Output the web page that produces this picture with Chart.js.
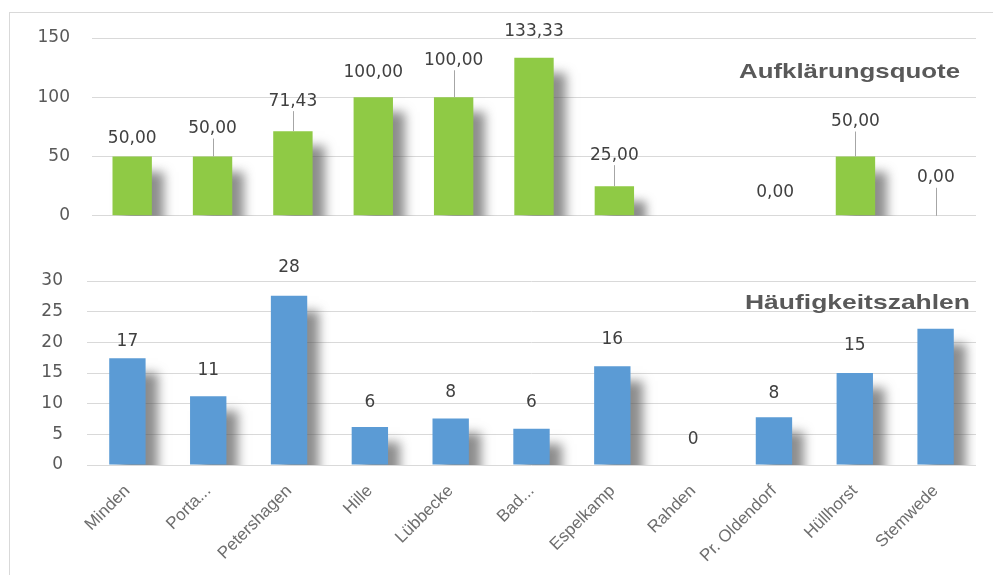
<!DOCTYPE html>
<html><head><meta charset="utf-8">
<script src="https://cdn.jsdelivr.net/npm/chart.js@4/dist/chart.umd.min.js"></script>
<style>
html,body{margin:0;padding:0;background:#fff;width:993px;height:575px;overflow:hidden;}
#frame{position:absolute;left:9px;top:12px;width:990px;height:570px;border-left:1px solid #d9d9d9;border-top:1px solid #d9d9d9;}
#c1{position:absolute;left:0;top:0;}
#c2{position:absolute;left:0;top:235px;}
</style></head><body>
<div id="frame"></div>
<canvas id="c1" width="993" height="248"></canvas>
<canvas id="c2" width="993" height="340"></canvas>
<script>
const categories = ["Minden","Porta...","Petershagen","Hille","Lübbecke","Bad...","Espelkamp","Rahden","Pr. Oldendorf","Hüllhorst","Stemwede"];
const quoteValues = [50, 50, 71.43, 100, 100, 133.33, 25, null, 0, 50, 0];
const quoteLabels = ["50,00","50,00","71,43","100,00","100,00","133,33","25,00","","0,00","50,00","0,00"];
const rateValues = [17.4, 11.2, 27.6, 6.2, 7.6, 5.9, 16.1, 0, 7.8, 15.0, 22.2];
const rateLabels = ["17","11","28","6","8","6","16","0","8","15",""];
const quoteTicks = [0, 50, 100, 150];
const rateTicks = [0, 5, 10, 15, 20, 25, 30];
const quoteTitle = "Aufklärungsquote";
const rateTitle = "Häufigkeitszahlen";

const shadowPlugin = {
  id: 'barShadow',
  beforeDatasetsDraw(chart) {
    const c = chart.ctx; c.save();
    c.shadowColor = 'rgba(80,80,80,0.65)';
    c.shadowOffsetX = 12; c.shadowOffsetY = 15; c.shadowBlur = 10;
  },
  afterDatasetsDraw(chart) { chart.ctx.restore(); }
};

const labelPlugin = {
  id: 'barLabels',
  afterDraw(chart, args, o) {
    const ctx = chart.ctx, meta = chart.getDatasetMeta(0), ca = chart.chartArea;
    ctx.save();
    ctx.font = o.font; ctx.fillStyle = o.color; ctx.textAlign = 'center'; ctx.textBaseline = 'middle';
    meta.data.forEach((bar, i) => {
      const t = o.texts[i]; if (!t) return;
      const by = isNaN(bar.y) ? ca.bottom : bar.y;
      const y = by - o.lift[i];
      ctx.fillText(t, bar.x, y);
      if (o.leader && o.leader[i]) {
        ctx.strokeStyle = '#a6a6a6'; ctx.lineWidth = 1;
        ctx.beginPath(); ctx.moveTo(Math.round(bar.x) + 0.5, y + 10); ctx.lineTo(Math.round(bar.x) + 0.5, by); ctx.stroke();
      }
    });
    ctx.font = o.titleFont; ctx.fillStyle = '#595959'; ctx.textAlign = 'left'; ctx.textBaseline = 'middle';
    const w = ctx.measureText(o.title).width;
    ctx.translate(o.titleX, o.titleY); ctx.scale(o.titleW / w, 1);
    ctx.fillText(o.title, 0, 0);
    ctx.restore();
  }
};

const tickFont = {size: 17, family: 'DejaVu Sans'};
const labelFont = '17px "DejaVu Sans"';

new Chart(document.getElementById('c1'), {
  type: 'bar',
  data: {labels: categories, datasets: [{data: quoteValues, backgroundColor: '#8fca45', barPercentage: 0.49, categoryPercentage: 1}]},
  options: {
    responsive: false, animation: false, events: [],
    layout: {padding: {top: 38, bottom: 7, right: 17, left: 0}},
    plugins: {
      legend: {display: false}, tooltip: {enabled: false},
      barLabels: {
        texts: quoteLabels, font: labelFont, color: '#404040',
        lift: [18, 28, 30, 25, 37, 26, 31, 0, 23, 35, 38],
        leader: [0, 1, 1, 0, 1, 0, 1, 0, 0, 1, 1],
        title: quoteTitle, titleFont: 'bold 21px "Liberation Sans"', titleX: 739, titleY: 72, titleW: 221
      }
    },
    scales: {
      x: {display: false},
      y: {
        min: 0, max: 150,
        afterBuildTicks: s => { s.ticks = quoteTicks.map(v => ({value: v})); },
        afterFit: s => { s.width = 92; },
        grid: {color: '#d9d9d9', drawTicks: false}, border: {display: false},
        ticks: {padding: 22, color: '#595959', font: tickFont}
      }
    }
  },
  plugins: [shadowPlugin, labelPlugin]
});

new Chart(document.getElementById('c2'), {
  type: 'bar',
  data: {labels: categories, datasets: [{data: rateValues, backgroundColor: '#5b9bd5', barPercentage: 0.45, categoryPercentage: 1}]},
  options: {
    responsive: false, animation: false, events: [],
    layout: {padding: {top: 46, bottom: 0, right: 17, left: 0}},
    plugins: {
      legend: {display: false}, tooltip: {enabled: false},
      barLabels: {
        texts: rateLabels, font: labelFont, color: '#404040',
        lift: [17, 26, 28, 24, 26, 26, 27, 25, 24, 27, 0],
        leader: null,
        title: rateTitle, titleFont: 'bold 21px "Liberation Sans"', titleX: 745, titleY: 68, titleW: 225
      }
    },
    scales: {
      x: {
        afterFit: s => { s.height = 110; },
        grid: {display: false}, border: {display: false},
        ticks: {autoSkip: false, maxRotation: 45, minRotation: 45, padding: 8, color: '#6e6e6e', font: {size: 17, family: 'Liberation Sans'}}
      },
      y: {
        min: 0, max: 30,
        afterBuildTicks: s => { s.ticks = rateTicks.map(v => ({value: v})); },
        afterFit: s => { s.width = 87; },
        grid: {color: '#d9d9d9', drawTicks: false}, border: {display: false},
        ticks: {padding: 24, color: '#595959', font: tickFont}
      }
    }
  },
  plugins: [shadowPlugin, labelPlugin]
});
</script>
</body></html>
